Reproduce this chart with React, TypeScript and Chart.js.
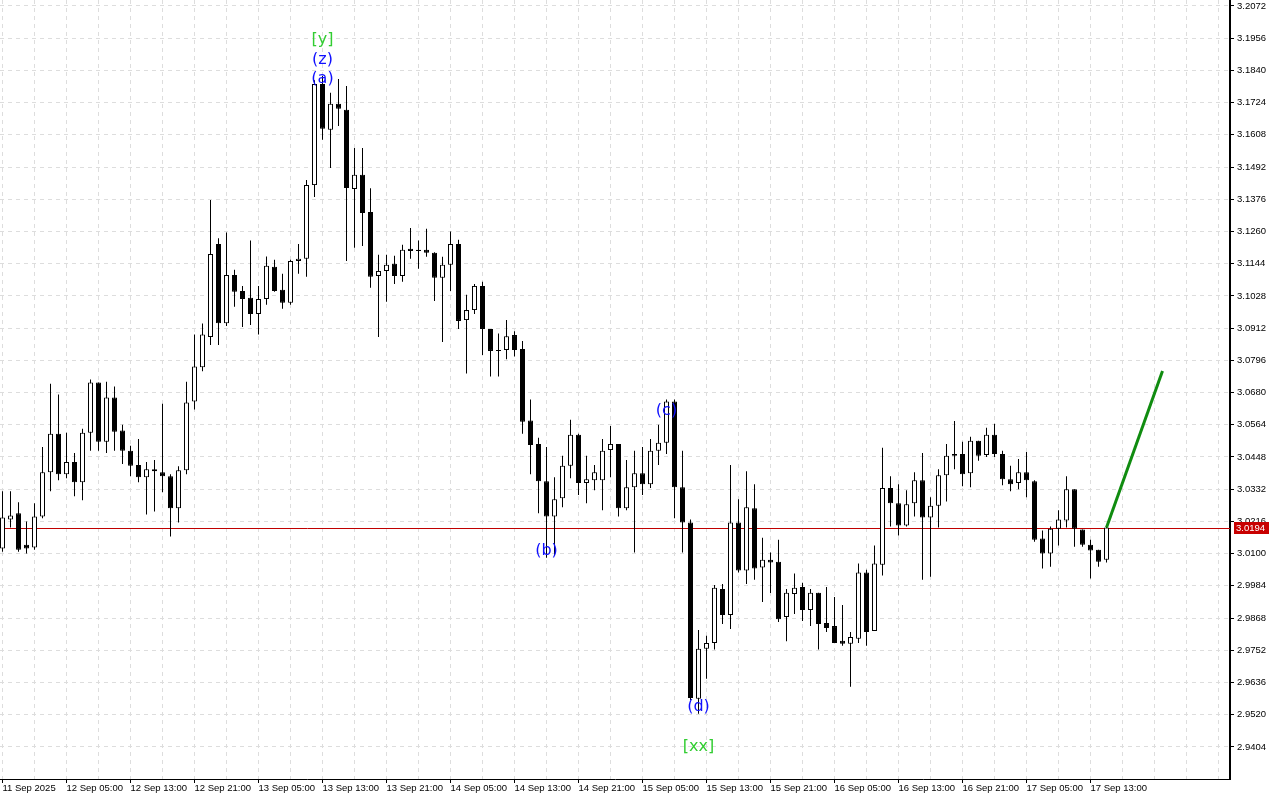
import React, { useEffect, useRef } from "react";
import { Chart, registerables } from "chart.js";

Chart.register(...registerables);

// Hourly candles starting 11 Sep 2025 21:00 (index 0)
const opens = [
  3.0118, 3.0223, 3.0245, 3.0132, 3.0122, 3.0234, 3.0393, 3.0532, 3.0386, 3.0430,
  3.0357, 3.0535, 3.0716, 3.0503, 3.0662, 3.0543, 3.0470, 3.0419, 3.0375, 3.0404,
  3.0393, 3.0379, 3.0263, 3.0400, 3.0648, 3.0771, 3.0880, 3.1215, 3.0930, 3.1103,
  3.1046, 3.1021, 3.0963, 3.1017, 3.1133, 3.1050, 3.1003, 3.1154, 3.1162, 3.1427,
  3.1791, 3.1626, 3.1720, 3.1698, 3.1413, 3.1464, 3.1330, 3.1100, 3.1118, 3.1144,
  3.1100, 3.1198, 3.1194, 3.1194, 3.1183, 3.1093, 3.1140, 3.1215, 3.0941, 3.0977,
  3.1064, 3.0909, 3.0833, 3.0833, 3.0887, 3.0837, 3.0579, 3.0495, 3.0361, 3.0234,
  3.0299, 3.0416, 3.0528, 3.0354, 3.0364, 3.0364, 3.0473, 3.0495, 3.0263, 3.0339,
  3.0389, 3.0350, 3.0470, 3.0499, 3.0648, 3.0339, 3.0212, 2.9577, 2.9757, 2.9778,
  2.9973, 2.9879, 3.0212, 3.0039, 3.0263, 3.0050, 3.0078, 3.0071, 2.9872, 2.9955,
  2.9980, 2.9897, 2.9959, 2.9850, 2.9839, 2.9786, 2.9775, 2.9793, 3.0032, 2.9821,
  3.0060, 3.0336, 3.0281, 3.0201, 3.0281, 3.0364, 3.0230, 3.0272, 3.0382, 3.0452,
  3.0459, 3.0389, 3.0506, 3.0455, 3.0528, 3.0459, 3.0368, 3.0354, 3.0393, 3.0361,
  3.0154, 3.0100, 3.0190, 3.0219, 3.0332, 3.0187, 3.0132, 3.0114, 3.0078,
];
const highs = [
  3.0325, 3.0325, 3.0285, 3.0216, 3.0281, 3.0484, 3.0712, 3.0673, 3.0535, 3.0462,
  3.0550, 3.0727, 3.0716, 3.0719, 3.0702, 3.0564, 3.0488, 3.0513, 3.0430, 3.0437,
  3.0640, 3.0386, 3.0415, 3.0719, 3.0889, 3.0929, 3.1373, 3.1236, 3.1256, 3.1122,
  3.1064, 3.1228, 3.1064, 3.1170, 3.1158, 3.1108, 3.1158, 3.1215, 3.1445, 3.1805,
  3.1820, 3.1760, 3.1809, 3.1784, 3.1561, 3.1561, 3.1416, 3.1176, 3.1176, 3.1173,
  3.1212, 3.1273, 3.1228, 3.1270, 3.1185, 3.1169, 3.1260, 3.1230, 3.1032, 3.1071,
  3.1079, 3.0909, 3.0893, 3.0941, 3.0901, 3.0866, 3.0655, 3.0517, 3.0484, 3.0375,
  3.0452, 3.0582, 3.0532, 3.0452, 3.0419, 3.0513, 3.0560, 3.0495, 3.0437, 3.0470,
  3.0484, 3.0513, 3.0564, 3.0655, 3.0655, 3.0470, 3.0223, 2.9825, 2.9804, 2.9987,
  2.9991, 3.0419, 3.0296, 3.0397, 3.0350, 3.0157, 3.0104, 3.0150, 2.9973, 3.0028,
  2.9995, 2.9973, 2.9959, 2.9980, 2.9944, 2.9915, 2.9818, 3.0064, 3.0042, 3.0129,
  3.0481, 3.0379, 3.0350, 3.0328, 3.0393, 3.0462, 3.0303, 3.0404, 3.0495, 3.0578,
  3.0503, 3.0521, 3.0506, 3.0553, 3.0568, 3.0470, 3.0416, 3.0441, 3.0466, 3.0364,
  3.0183, 3.0198, 3.0256, 3.0379, 3.0332, 3.0187, 3.0150, 3.0114, 3.0198,
];
const lows = [
  3.0107, 3.0194, 3.0107, 3.0100, 3.0114, 3.0227, 3.0325, 3.0364, 3.0371, 3.0307,
  3.0292, 3.0470, 3.0470, 3.0462, 3.0470, 3.0423, 3.0379, 3.0357, 3.0241, 3.0252,
  3.0321, 3.0162, 3.0212, 3.0386, 3.0619, 3.0757, 3.0851, 3.0851, 3.0920, 3.0989,
  3.0916, 3.0923, 3.0889, 3.0996, 3.1043, 3.0982, 3.0996, 3.1108, 3.1097, 3.1384,
  3.1590, 3.1489, 3.1640, 3.1154, 3.1201, 3.1208, 3.1057, 3.0880, 3.1007, 3.1071,
  3.1079, 3.1162, 3.1126, 3.1169, 3.1010, 3.0862, 3.1046, 3.0909, 3.0749, 3.0963,
  3.0815, 3.0738, 3.0738, 3.0800, 3.0810, 3.0532, 3.0386, 3.0245, 3.0085, 3.0093,
  3.0267, 3.0371, 3.0311, 3.0281, 3.0328, 3.0256, 3.0375, 3.0234, 3.0256, 3.0104,
  3.0311, 3.0336, 3.0419, 3.0459, 3.0227, 3.0104, 2.9573, 2.9523, 2.9649, 2.9755,
  2.9847, 2.9829, 3.0032, 2.9991, 3.0006, 2.9926, 2.9958, 2.9854, 2.9784, 2.9883,
  2.9857, 2.9839, 2.9755, 2.9818, 2.9778, 2.9768, 2.9621, 2.9778, 2.9768, 2.9821,
  3.0021, 3.0198, 3.0165, 3.0198, 3.0234, 3.0006, 3.0017, 3.0194, 3.0288, 3.0404,
  3.0343, 3.0339, 3.0434, 3.0448, 3.0448, 3.0346, 3.0325, 3.0332, 3.0303, 3.0143,
  3.0046, 3.0053, 3.0129, 3.0194, 3.0125, 3.0125, 3.0010, 3.0053, 3.0068,
];
const closes = [
  3.0230, 3.0237, 3.0114, 3.0118, 3.0234, 3.0393, 3.0532, 3.0386, 3.0430, 3.0357,
  3.0535, 3.0716, 3.0503, 3.0662, 3.0539, 3.0470, 3.0416, 3.0375, 3.0404, 3.0397,
  3.0379, 3.0263, 3.0400, 3.0644, 3.0774, 3.0889, 3.1179, 3.0930, 3.1103, 3.1043,
  3.1017, 3.0963, 3.1017, 3.1137, 3.1046, 3.1003, 3.1154, 3.1162, 3.1427, 3.1791,
  3.1630, 3.1720, 3.1702, 3.1417, 3.1464, 3.1327, 3.1097, 3.1118, 3.1140, 3.1100,
  3.1194, 3.1190, 3.1190, 3.1183, 3.1093, 3.1140, 3.1215, 3.0938, 3.0977, 3.1064,
  3.0909, 3.0830, 3.0830, 3.0883, 3.0833, 3.0575, 3.0491, 3.0361, 3.0234, 3.0296,
  3.0416, 3.0528, 3.0354, 3.0368, 3.0393, 3.0470, 3.0495, 3.0263, 3.0339, 3.0389,
  3.0350, 3.0470, 3.0499, 3.0648, 3.0339, 3.0212, 2.9580, 2.9757, 2.9778, 2.9977,
  2.9879, 3.0212, 3.0039, 3.0267, 3.0046, 3.0078, 3.0068, 2.9864, 2.9959, 2.9977,
  2.9897, 2.9959, 2.9847, 2.9832, 2.9778, 2.9775, 2.9800, 3.0032, 2.9818, 3.0064,
  3.0336, 3.0281, 3.0201, 3.0278, 3.0364, 3.0230, 3.0272, 3.0382, 3.0452, 3.0459,
  3.0386, 3.0506, 3.0452, 3.0528, 3.0459, 3.0368, 3.0350, 3.0393, 3.0364, 3.0150,
  3.0100, 3.0190, 3.0223, 3.0332, 3.0190, 3.0132, 3.0111, 3.0071, 3.0194,
];

const xTickLabels = [
  "11 Sep 2025", "12 Sep 05:00", "12 Sep 13:00", "12 Sep 21:00", "13 Sep 05:00",
  "13 Sep 13:00", "13 Sep 21:00", "14 Sep 05:00", "14 Sep 13:00", "14 Sep 21:00",
  "15 Sep 05:00", "15 Sep 13:00", "15 Sep 21:00", "16 Sep 05:00", "16 Sep 13:00",
  "16 Sep 21:00", "17 Sep 05:00", "17 Sep 13:00",
];
const yTickValues = [
  3.2072, 3.1956, 3.184, 3.1724, 3.1608, 3.1492, 3.1376, 3.126, 3.1144, 3.1028,
  3.0912, 3.0796, 3.068, 3.0564, 3.0448, 3.0332, 3.0216, 3.01, 2.9984, 2.9868,
  2.9752, 2.9636, 2.952, 2.9404,
];

// projection (green line)
const projIndex = [138, 145];
const projPrice = [3.0194, 3.0758];

// wave labels
const waveText = ["[y]", "(z)", "(a)", "(b)", "(c)", "(d)", "[xx]"];
const waveIndex = [40, 40, 40, 68, 83, 87, 87];
const wavePrice = [3.1949, 3.1877, 3.1809, 3.0111, 3.0615, 2.9549, 2.9404];
const waveColor = ["#32CD32", "#1010ff", "#1010ff", "#1010ff", "#1010ff", "#1010ff", "#32CD32"];

const lastPrice = closes[closes.length - 1];

const AXIS_FONT = "'Liberation Sans', Arial, sans-serif";

export default function App() {
  const ref = useRef<HTMLCanvasElement | null>(null);

  useEffect(() => {
    if (!ref.current) return;
    const n = closes.length;
    const idx = Array.from({ length: n }, (_, i) => i);
    const bodies = idx.map((i) => ({ x: i, y: [opens[i], closes[i]] }));
    const wicks = idx.map((i) => ({ x: i, y: [lows[i], highs[i]] }));
    const bodyColors = idx.map((i) => (closes[i] >= opens[i] ? "#ffffff" : "#000000"));

    const overlay = {
      id: "overlay",
      beforeDatasetsDraw(chart: any) {
        const { ctx, chartArea, scales } = chart;
        const y = Math.round(scales.y.getPixelForValue(lastPrice)) + 0.5;
        ctx.save();
        ctx.strokeStyle = "#c00000";
        ctx.lineWidth = 1;
        ctx.beginPath();
        ctx.moveTo(chartArea.left, y);
        ctx.lineTo(chartArea.right, y);
        ctx.stroke();
        ctx.restore();
      },
      afterDatasetsDraw(chart: any) {
        const { ctx, scales } = chart;
        ctx.save();
        ctx.font = "16px 'DejaVu Sans', sans-serif";
        ctx.textAlign = "center";
        ctx.textBaseline = "middle";
        waveText.forEach((t, k) => {
          ctx.fillStyle = waveColor[k];
          ctx.fillText(t, scales.x.getPixelForValue(waveIndex[k]), scales.y.getPixelForValue(wavePrice[k]));
        });
        ctx.restore();
      },
      afterDraw(chart: any) {
        const { ctx, chartArea, scales } = chart;
        const y = Math.round(scales.y.getPixelForValue(lastPrice));
        ctx.save();
        ctx.fillStyle = "#c80000";
        ctx.fillRect(chartArea.right + 4, y - 6, 35, 12);
        ctx.fillStyle = "#ffffff";
        ctx.font = `9.5px ${AXIS_FONT}`;
        ctx.textAlign = "left";
        ctx.textBaseline = "middle";
        ctx.fillText(lastPrice.toFixed(4), chartArea.right + 6, y + 0.5);
        ctx.restore();
      },
    };

    const chart = new Chart(ref.current, {
      type: "bar",
      data: {
        datasets: [
          {
            type: "line",
            data: projIndex.map((x, k) => ({ x, y: projPrice[k] })),
            borderColor: "#108c10",
            borderWidth: 3,
            pointRadius: 0,
            order: 0,
          } as any,
          {
            data: bodies as any,
            backgroundColor: bodyColors,
            borderColor: "#000000",
            borderWidth: 1,
            borderSkipped: false,
            barThickness: 5,
            grouped: false,
            inflateAmount: 0,
            order: 1,
          } as any,
          {
            data: wicks as any,
            backgroundColor: "#000000",
            borderWidth: 0,
            barThickness: 1,
            grouped: false,
            inflateAmount: 0,
            order: 2,
          } as any,
        ],
      },
      options: {
        responsive: false,
        animation: false,
        events: [],
        layout: { padding: 0 },
        plugins: { legend: { display: false }, tooltip: { enabled: false } },
        scales: {
          x: {
            type: "linear",
            min: -0.3125,
            max: 153.4375,
            offset: false,
            bounds: "data",
            afterBuildTicks: (s: any) => {
              const t: any[] = [];
              for (let v = 0; v <= 152; v += 4) t.push({ value: v });
              s.ticks = t;
            },
            afterFit: (s: any) => {
              s.height = 21;
              s.paddingLeft = 0;
              s.paddingRight = 0;
              s.paddingTop = 0;
              s.paddingBottom = 0;
            },
            ticks: {
              autoSkip: false,
              maxRotation: 0,
              minRotation: 0,
              align: "start",
              padding: 0,
              color: "#000000",
              font: { family: AXIS_FONT, size: 9.5 },
              callback: (v: any) => {
                const k = Number(v) / 8;
                return Number.isInteger(k) && k < xTickLabels.length ? xTickLabels[k] : "";
              },
            },
            grid: {
              offset: false,
              color: "#dddddd",
              lineWidth: 1,
              drawTicks: true,
              tickLength: 4,
              tickColor: (c: any) => {
                const v = c.tick ? c.tick.value : -1;
                return v % 8 === 0 && v / 8 < xTickLabels.length ? "#000000" : "rgba(0,0,0,0)";
              },
            },
            border: { display: true, color: "#000000", width: 1, dash: [4, 4] },
          } as any,
          y: {
            type: "linear",
            position: "right",
            min: 2.92884,
            max: 3.20936,
            bounds: "data",
            afterBuildTicks: (s: any) => {
              s.ticks = yTickValues.map((v) => ({ value: v }));
            },
            afterFit: (s: any) => {
              s.width = 50;
              s.paddingLeft = 0;
              s.paddingRight = 0;
              s.paddingTop = 0;
              s.paddingBottom = 0;
            },
            ticks: {
              autoSkip: false,
              padding: 3,
              color: "#000000",
              font: { family: AXIS_FONT, size: 9.5 },
              callback: (v: any) => Number(v).toFixed(4),
            },
            grid: {
              offset: false,
              color: "#dddddd",
              lineWidth: 1,
              drawTicks: true,
              tickLength: 4,
              tickColor: "#000000",
            },
            border: { display: true, color: "#000000", width: 2, dash: [4, 4] },
          } as any,
        },
      },
      plugins: [overlay],
    });
    return () => chart.destroy();
  }, []);

  return (
    <div style={{ position: "absolute", left: 0, top: 0, width: 1280, height: 800, background: "#ffffff" }}>
      <canvas ref={ref} width={1280} height={800} style={{ display: "block" }} />
    </div>
  );
}
